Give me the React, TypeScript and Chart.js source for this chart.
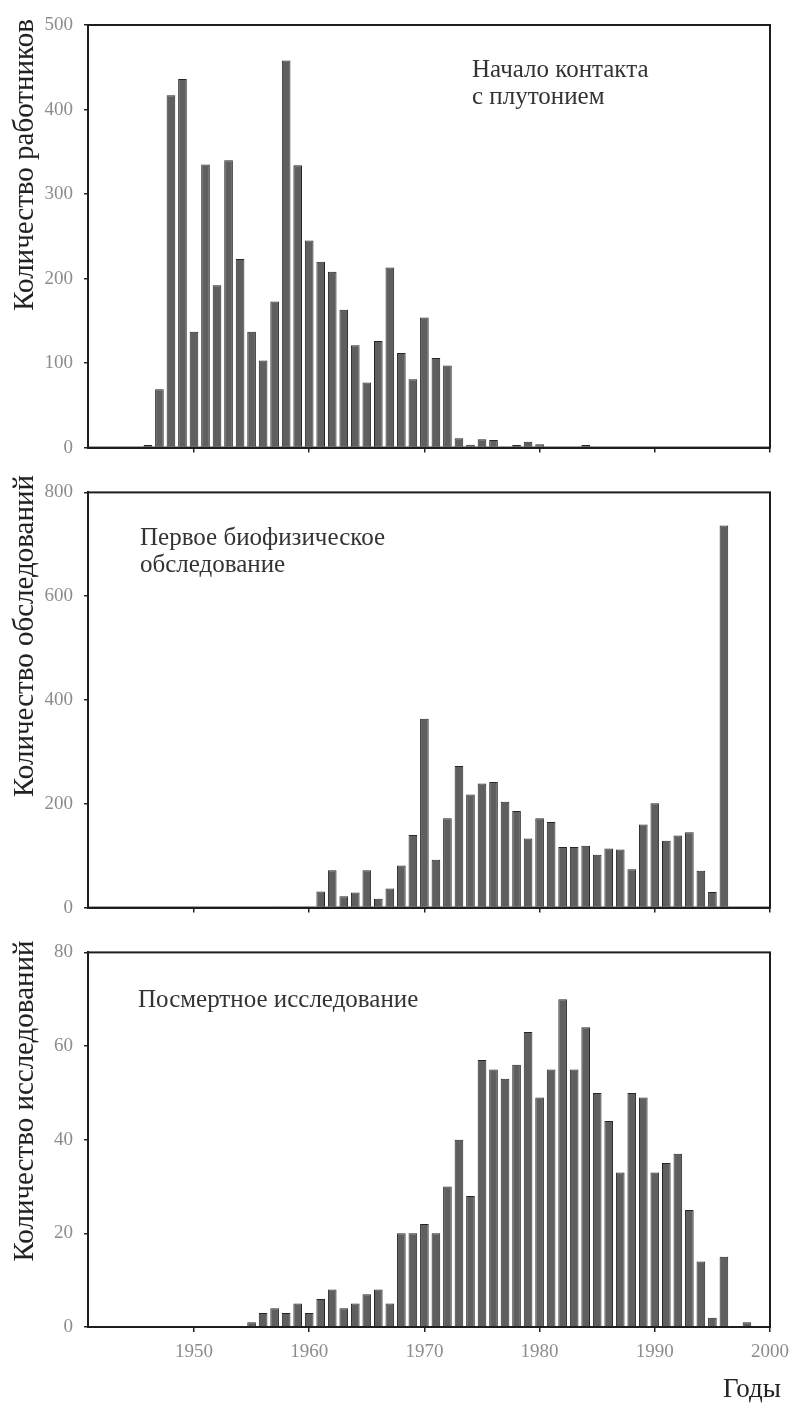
import React, { useEffect, useRef } from 'react';
import { Chart, registerables } from 'chart.js';

Chart.register(...registerables);

// ---------- data ----------
const contactYears = [1946, 1947, 1948, 1949, 1950, 1951, 1952, 1953, 1954, 1955, 1956, 1957, 1958, 1959, 1960, 1961, 1962, 1963, 1964, 1965, 1966, 1967, 1968, 1969, 1970, 1971, 1972, 1973, 1974, 1975, 1976, 1977, 1978, 1979, 1980, 1981, 1982, 1983, 1984, 1985, 1986, 1987, 1988];
const contactWorkers = [3, 69, 417, 436, 137, 335, 192, 340, 223, 137, 103, 173, 458, 334, 245, 220, 208, 163, 121, 77, 126, 213, 112, 81, 154, 106, 97, 11, 3.5, 10, 9, 1, 3, 7, 4, 1, 1, 1, 3, 1, 1, 1, 1];

const firstExamYears = [1957, 1958, 1959, 1960, 1961, 1962, 1963, 1964, 1965, 1966, 1967, 1968, 1969, 1970, 1971, 1972, 1973, 1974, 1975, 1976, 1977, 1978, 1979, 1980, 1981, 1982, 1983, 1984, 1985, 1986, 1987, 1988, 1989, 1990, 1991, 1992, 1993, 1994, 1995, 1996];
const firstExamCounts = [2, 2, 2, 2, 31, 72, 22, 29, 72, 17, 37, 81, 140, 364, 92, 172, 273, 218, 239, 242, 204, 186, 133, 172, 165, 117, 117, 119, 102, 114, 112, 74, 160, 201, 129, 139, 145, 71, 30, 736];

const autopsyYears = [1955, 1956, 1957, 1958, 1959, 1960, 1961, 1962, 1963, 1964, 1965, 1966, 1967, 1968, 1969, 1970, 1971, 1972, 1973, 1974, 1975, 1976, 1977, 1978, 1979, 1980, 1981, 1982, 1983, 1984, 1985, 1986, 1987, 1988, 1989, 1990, 1991, 1992, 1993, 1994, 1995, 1996, 1997, 1998];
const autopsyCounts = [1, 3, 4, 3, 5, 3, 6, 8, 4, 5, 7, 8, 5, 20, 20, 22, 20, 30, 40, 28, 57, 55, 53, 56, 63, 49, 55, 70, 55, 64, 50, 44, 33, 50, 49, 33, 35, 37, 25, 14, 2, 15, 0, 1];

const xTickYears = [1950, 1960, 1970, 1980, 1990, 2000];
const contactYTicks = [0, 100, 200, 300, 400, 500];
const firstExamYTicks = [0, 200, 400, 600, 800];
const autopsyYTicks = [0, 20, 40, 60, 80];

const contactTitle = 'Количество работников';
const firstExamTitle = 'Количество обследований';
const autopsyTitle = 'Количество исследований';
const contactNote = ['Начало контакта', 'с плутонием'];
const firstExamNote = ['Первое биофизическое', 'обследование'];
const autopsyNote = ['Посмертное исследование'];
const xAxisTitle = 'Годы';

// ---------- styling ----------
const SERIF = '"Liberation Serif", "Times New Roman", serif';
const X_MIN = 1940.8;
const X_MAX = 2000;

type PanelSpec = {
  years: number[];
  values: number[];
  yTicks: number[];
  yTitle: string;
  note: string[];
  noteX: number;
  noteY: number;
  titleCenterY: number;
  canvasTop: number;
  canvasHeight: number;
  padTop: number;
  xAxisHeight: number;
  showXLabels: boolean;
  showXTitle: boolean;
};

const panels: PanelSpec[] = [
  {
    years: contactYears, values: contactWorkers, yTicks: contactYTicks, yTitle: contactTitle,
    note: contactNote, noteX: 472, noteY: 77, titleCenterY: 165,
    canvasTop: 0, canvasHeight: 470, padTop: 25, xAxisHeight: 17, showXLabels: false, showXTitle: false,
  },
  {
    years: firstExamYears, values: firstExamCounts, yTicks: firstExamYTicks, yTitle: firstExamTitle,
    note: firstExamNote, noteX: 140, noteY: 75, titleCenterY: 166,
    canvasTop: 470, canvasHeight: 460, padTop: 16, xAxisHeight: 17, showXLabels: false, showXTitle: false,
  },
  {
    years: autopsyYears, values: autopsyCounts, yTicks: autopsyYTicks, yTitle: autopsyTitle,
    note: autopsyNote, noteX: 138, noteY: 77, titleCenterY: 171,
    canvasTop: 930, canvasHeight: 473, padTop: 18, xAxisHeight: 76, showXLabels: true, showXTitle: true,
  },
];

function makeTextPlugin(p: PanelSpec) {
  return {
    id: 'panelText',
    afterDraw(chart: any) {
      const ctx = chart.ctx as CanvasRenderingContext2D;
      const { left, top, right, bottom } = chart.chartArea;
      ctx.save();
      ctx.strokeStyle = '#1e1e1e';
      ctx.lineWidth = 2;
      ctx.strokeRect(left, top, right - left, bottom - top);

      ctx.fillStyle = '#333333';
      ctx.font = `25px ${SERIF}`;
      ctx.textAlign = 'left';
      ctx.textBaseline = 'alphabetic';
      p.note.forEach((line, i) => ctx.fillText(line, p.noteX, p.noteY + i * 27));

      if (p.showXTitle) {
        ctx.fillStyle = '#222222';
        ctx.font = `27px ${SERIF}`;
        ctx.fillText(xAxisTitle, 723, 467);
      }

      ctx.translate(33, p.titleCenterY);
      ctx.rotate(-Math.PI / 2);
      ctx.fillStyle = '#222222';
      ctx.font = `29px ${SERIF}`;
      ctx.textAlign = 'center';
      ctx.fillText(p.yTitle, 0, 0);
      ctx.restore();
    },
  };
}

function Panel({ p }: { p: PanelSpec }) {
  const ref = useRef<HTMLCanvasElement | null>(null);
  useEffect(() => {
    if (!ref.current) return;
    const data = p.years.map((y, i) => ({ x: y, y: p.values[i] }));
    const chart = new Chart(ref.current, {
      type: 'bar',
      data: {
        datasets: [
          {
            data: data as any,
            backgroundColor: '#5f5f5f',
            borderColor: '#262626',
            borderWidth: 1,
            barPercentage: 0.75,
            categoryPercentage: 1,
          },
        ],
      },
      plugins: [makeTextPlugin(p)],
      options: {
        responsive: false,
        animation: false,
        devicePixelRatio: 1,
        layout: { padding: { left: 0, right: 21, top: p.padTop, bottom: 0 } },
        plugins: { legend: { display: false }, tooltip: { enabled: false }, title: { display: false } },
        scales: {
          x: {
            type: 'linear',
            min: X_MIN,
            max: X_MAX,
            offset: false,
            afterBuildTicks: (s: any) => {
              s.ticks = xTickYears.map((v) => ({ value: v }));
            },
            afterFit: (s: any) => {
              s.height = p.xAxisHeight;
              s.paddingLeft = 0;
              s.paddingRight = 0;
            },
            grid: { display: true, offset: false, drawOnChartArea: false, drawTicks: true, tickLength: 5, color: '#222222', lineWidth: 1.5 },
            border: { display: true, color: '#1e1e1e', width: 2 },
            ticks: {
              display: true,
              autoSkip: false,
              maxRotation: 0,
              padding: 9,
              color: '#8c8c8c',
              font: { family: SERIF, size: 19 },
              callback: (v: any) => (p.showXLabels ? String(v) : ''),
            },
          },
          y: {
            type: 'linear',
            min: p.yTicks[0],
            max: p.yTicks[p.yTicks.length - 1],
            afterBuildTicks: (s: any) => {
              s.ticks = p.yTicks.map((v) => ({ value: v }));
            },
            afterFit: (s: any) => {
              s.width = 88;
            },
            grid: { display: true, drawOnChartArea: false, drawTicks: true, tickLength: 4, color: '#222222', lineWidth: 1.5 },
            border: { display: true, color: '#1e1e1e', width: 2 },
            ticks: {
              padding: 11,
              color: '#8c8c8c',
              font: { family: SERIF, size: 19 },
              callback: (v: any) => String(v),
            },
          },
        },
      } as any,
    });
    return () => chart.destroy();
  }, [p]);
  return (
    <canvas
      ref={ref}
      width={791}
      height={p.canvasHeight}
      style={{ position: 'absolute', left: 0, top: p.canvasTop, width: 791, height: p.canvasHeight }}
    />
  );
}

export default function App() {
  return (
    <div style={{ position: 'absolute', left: 0, top: 0, width: 791, height: 1403, background: '#ffffff' }}>
      {panels.map((p, i) => (
        <Panel key={i} p={p} />
      ))}
    </div>
  );
}
